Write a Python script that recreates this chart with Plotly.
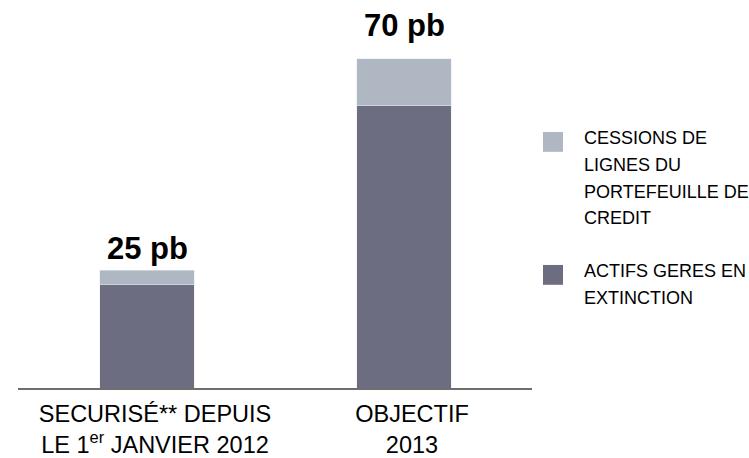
import plotly.graph_objects as go

# Categories and stacked values (points de base)
categories = ["SECURISÉ** DEPUIS<br>LE 1<sup>er</sup> JANVIER 2012", "OBJECTIF<br>2013"]
actifs_extinction = [22, 60]
cessions_credit = [3, 10]
totals = [a + c for a, c in zip(actifs_extinction, cessions_credit)]
total_labels = [f"{t} pb" for t in totals]

legend_entries = [
    ("CESSIONS DE", "LIGNES DU", "PORTEFEUILLE DE", "CREDIT"),
    ("ACTIFS GERES EN", "EXTINCTION"),
]

DARK = "#6d6d81"
LIGHT = "#afb8c2"
FONT = "Liberation Sans, Arial, sans-serif"

W, H = 749, 458
ML, MR, MT, MB = 18, 217, 0, 67
PW, PH = W - ML - MR, H - MT - MB

xpos = [0, 1]
label_lift = [2, 14]  # pixel lift of each total label above its stack

fig = go.Figure()
fig.add_trace(go.Bar(x=xpos, y=actifs_extinction, marker_color=DARK, width=0.366,
                     name="ACTIFS GERES EN EXTINCTION", showlegend=False))
fig.add_trace(go.Bar(x=xpos, y=cessions_credit, marker_color=LIGHT, width=0.366,
                     name="CESSIONS DE LIGNES DU PORTEFEUILLE DE CREDIT", showlegend=False))

# Total labels above each stack
for x, t, lab, lift in zip(xpos, totals, total_labels, label_lift):
    fig.add_annotation(x=x, y=t, text=f"<b>{lab}</b>", showarrow=False,
                       yanchor="bottom", yshift=lift,
                       font=dict(family=FONT, size=31, color="#000000"))

# Manual legend: swatches and line-by-line text
def px_to_paper(px, py):
    return (px - ML) / PW, (MT + PH - py) / PH

swatch_tops = [133, 267]
colors = [LIGHT, DARK]
line_gap = 27
for top, col, lines in zip(swatch_tops, colors, legend_entries):
    x0, y0 = px_to_paper(543, top)
    x1, y1 = px_to_paper(563, top + 20)
    fig.add_shape(type="rect", xref="paper", yref="paper", x0=x0, x1=x1, y0=y1, y1=y0,
                  fillcolor=col, line_width=0)
    for i, line in enumerate(lines):
        tx, ty = px_to_paper(582, top + 6 + i * line_gap)
        fig.add_annotation(xref="paper", yref="paper", x=tx, y=ty, text=line,
                           showarrow=False, xanchor="left", yanchor="middle",
                           font=dict(family=FONT, size=18, color="#000000"))

fig.update_layout(
    width=W, height=H,
    margin=dict(l=ML, r=MR, t=MT, b=MB, pad=0),
    barmode="stack",
    plot_bgcolor="white", paper_bgcolor="white",
    showlegend=False,
    font=dict(family=FONT, color="#000000"),
)
fig.update_xaxes(range=[-0.502, 1.498], tickvals=xpos, ticktext=categories,
                 showline=True, linecolor="#6e6e6e", linewidth=1.5,
                 showgrid=False, zeroline=False, ticks="",
                 ticklabelshift=8, ticklabelstandoff=4,
                 tickfont=dict(family=FONT, size=23.5, color="#000000"))
fig.update_yaxes(range=[0, 82.5], visible=False, showgrid=False, zeroline=False)

fig.write_html("out.html")
